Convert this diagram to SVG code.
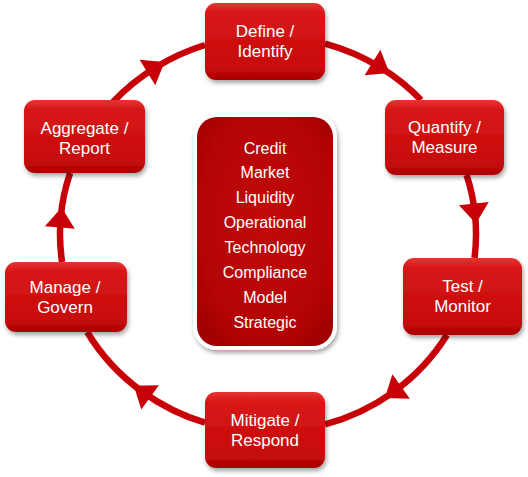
<svg xmlns="http://www.w3.org/2000/svg" width="528" height="477" viewBox="0 0 528 477">
<defs>
<linearGradient id="boxGrad" x1="0" y1="0" x2="0" y2="1">
<stop offset="0" stop-color="#e83434"/>
<stop offset="0.12" stop-color="#d81818"/>
<stop offset="0.85" stop-color="#c60a0a"/>
<stop offset="1" stop-color="#a80000"/>
</linearGradient>
<radialGradient id="centerGrad" cx="0.5" cy="0.45" r="0.65">
<stop offset="0" stop-color="#c20a0a"/>
<stop offset="0.75" stop-color="#b40404"/>
<stop offset="1" stop-color="#a20000"/>
</radialGradient>
<filter id="shadow" x="-20%" y="-20%" width="140%" height="150%">
<feDropShadow dx="1.5" dy="3" stdDeviation="2" flood-color="#000" flood-opacity="0.35"/>
</filter>
<marker id="arrow" viewBox="-20 -20 40 40" markerWidth="40" markerHeight="40" refX="0" refY="0" orient="auto" markerUnits="userSpaceOnUse">
<path d="M-10,-15 L10,0 L-10,15 Z" fill="#c80008"/>
</marker>
<style>
.conn{fill:none;stroke:#c80008;stroke-width:6.5;marker-mid:url(#arrow)}
.box{fill:url(#boxGrad);filter:url(#shadow)}
.lbl{fill:#ffffff;font-family:"Liberation Sans",Arial,sans-serif;font-size:17px;text-anchor:middle}
.ctr{fill:#ffffff;font-family:"Liberation Sans",Arial,sans-serif;font-size:16px;text-anchor:middle}
</style>
</defs>
<rect width="528" height="477" fill="#ffffff"/>
<g id="connectors">
<path class="conn" d="M113,102 A208,198 0 0 1 156,67.2 A208,198 0 0 1 205,45"/>
<path class="conn" d="M325,43.6 A208,198 0 0 1 381,67.8 A208,198 0 0 1 421,100"/>
<path class="conn" d="M466.6,175 A208,198 0 0 1 474.9,213.5 A208,198 0 0 1 474.5,258"/>
<path class="conn" d="M446.9,335 A208,198 0 0 1 393,392.3 A208,198 0 0 1 325,424.4"/>
<path class="conn" d="M205,422.7 A208,198 0 0 1 142,391.5 A208,198 0 0 1 87.2,332"/>
<path class="conn" d="M62.1,262 A208,198 0 0 1 60.7,217.5 A208,198 0 0 1 70.1,173"/>
</g>
<g id="center">
<rect x="193" y="113" width="144" height="237" rx="24" fill="#ffffff" filter="url(#shadow)"/>
<rect x="197" y="117" width="136" height="229" rx="20" fill="url(#centerGrad)"/>
<text class="ctr" x="265" y="153.5">Credit</text>
<text class="ctr" x="265" y="178.4">Market</text>
<text class="ctr" x="265" y="203.3">Liquidity</text>
<text class="ctr" x="265" y="228.2">Operational</text>
<text class="ctr" x="265" y="253">Technology</text>
<text class="ctr" x="265" y="278">Compliance</text>
<text class="ctr" x="265" y="302.9">Model</text>
<text class="ctr" x="265" y="327.8">Strategic</text>
</g>
<g id="define">
<rect class="box" x="205" y="3" width="120" height="77" rx="11"/>
<text class="lbl" x="265" y="37">Define /</text>
<text class="lbl" x="265" y="57">Identify</text>
</g>
<g id="quantify">
<rect class="box" x="385" y="100" width="119" height="75" rx="11"/>
<text class="lbl" x="444.5" y="133">Quantify /</text>
<text class="lbl" x="444.5" y="153">Measure</text>
</g>
<g id="test">
<rect class="box" x="403" y="258" width="119" height="77" rx="11"/>
<text class="lbl" x="462.5" y="292">Test /</text>
<text class="lbl" x="462.5" y="312">Monitor</text>
</g>
<g id="mitigate">
<rect class="box" x="205" y="392" width="120" height="76" rx="11"/>
<text class="lbl" x="265" y="426">Mitigate /</text>
<text class="lbl" x="265" y="446">Respond</text>
</g>
<g id="manage">
<rect class="box" x="5" y="262" width="122" height="70" rx="11"/>
<text class="lbl" x="65" y="293">Manage /</text>
<text class="lbl" x="65" y="313">Govern</text>
</g>
<g id="aggregate">
<rect class="box" x="24" y="100" width="121" height="73" rx="11"/>
<text class="lbl" x="84.5" y="134">Aggregate /</text>
<text class="lbl" x="84.5" y="154">Report</text>
</g>
</svg>
